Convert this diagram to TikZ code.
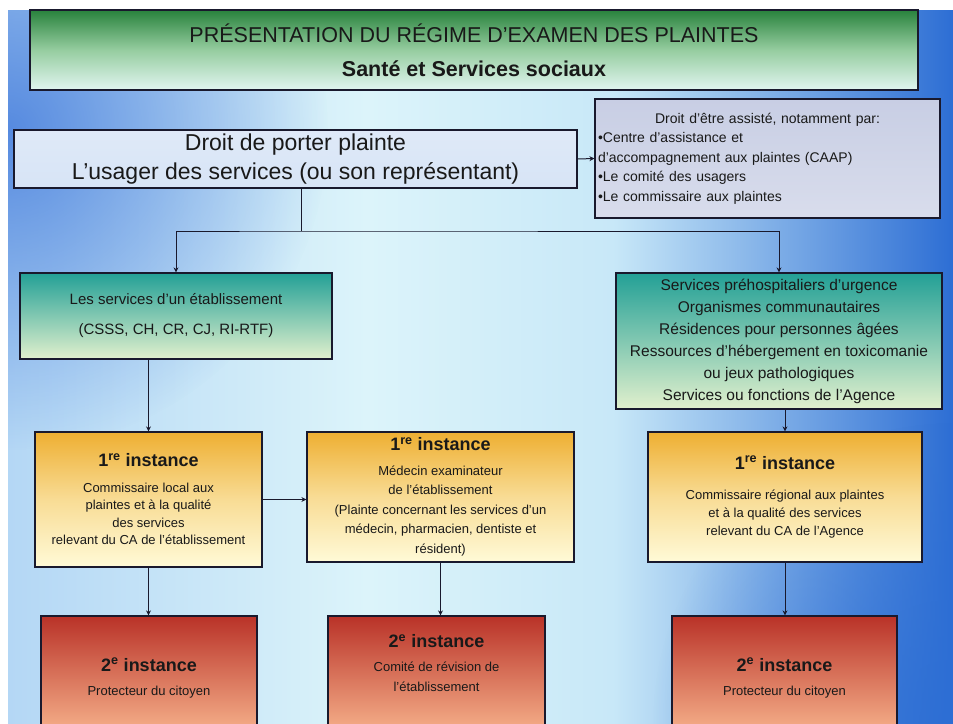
\documentclass[tikz,border=0pt]{standalone}
\usepackage{fontspec}
\setmainfont{Liberation Sans}
\usetikzlibrary{arrows.meta,fadings}

\definecolor{bordure}{RGB}{25,25,45}
\definecolor{texte}{RGB}{25,25,25}
\definecolor{fondg}{RGB}{180,215,245}
\definecolor{fondm}{RGB}{220,244,250}
\definecolor{fondm2}{RGB}{200,232,248}
\definecolor{fondd}{RGB}{45,110,212}
\definecolor{fondcoin}{RGB}{70,125,220}
\definecolor{vertfonce}{RGB}{40,130,60}
\definecolor{vertmoyen}{RGB}{150,205,160}
\definecolor{vertpale}{RGB}{225,245,240}
\definecolor{bleupale}{RGB}{215,228,246}
\definecolor{grispale}{RGB}{200,206,228}
\definecolor{turquoise}{RGB}{35,160,150}
\definecolor{turqpale}{RGB}{225,240,205}
\definecolor{jaunefonce}{RGB}{238,175,50}
\definecolor{jaunepale}{RGB}{255,250,215}
\definecolor{rougefonce}{RGB}{185,50,40}
\definecolor{rougepale}{RGB}{250,185,145}

\pgfdeclarehorizontalshading{fond}{100bp}{color(0bp)=(fondg); color(25bp)=(fondg);
  color(44bp)=(fondm); color(57bp)=(fondm2); color(75bp)=(fondd); color(100bp)=(fondd)}
\tikzfading[name=halo, inner color=transparent!15, outer color=transparent!100]

\newcommand{\taille}[2]{\fontsize{#1}{#2}\selectfont}

\tikzset{
  boite/.style={draw=bordure, line width=1.2pt, inner sep=0pt, align=center, text=texte},
  titre/.style={boite, top color=vertfonce, bottom color=vertpale, middle color=vertmoyen, font=\taille{21.5}{34}},
  plainte/.style={boite, top color=bleupale!80!white, bottom color=bleupale, font=\taille{23}{29}},
  assist/.style={boite, top color=grispale, bottom color=grispale!70!white, align=left, font=\taille{14}{19.5}},
  etab/.style={boite, top color=turquoise, bottom color=turqpale},
  premiere/.style={boite, top color=jaunefonce, bottom color=jaunepale, middle color=jaunepale!60!jaunefonce},
  deuxieme/.style={boite, top color=rougefonce, bottom color=rougepale},
  trait/.style={draw=bordure, line width=1pt},
  fleche/.style={trait, -{Stealth[length=5pt,width=5pt]}}
}

\begin{document}
\begin{tikzpicture}[x=1pt, y=-1pt]
	% fond
	\useasboundingbox (0,0) rectangle (953,723);
	\clip (0,0) rectangle (953,723);
	\fill[white] (0,0) rectangle (953,723);
	\begin{scope}
		\clip (8,10) rectangle (953,723);
		\shade[shading=fond] (8,10) rectangle (953,723);
		\fill[fondcoin, path fading=halo] (8,130) circle[radius=320pt];
		\fill[fondd, path fading=halo] (953,723) circle[radius=300pt];
	\end{scope}

	% titre
	\node[titre, minimum width=888pt, minimum height=80pt] (titre) at (474,50)
		{PRÉSENTATION DU RÉGIME D'EXAMEN DES PLAINTES\\ \textbf{Santé et Services sociaux}};

	% usager
	\node[plainte, minimum width=563pt, minimum height=58pt] (plainte) at (295.5,159)
		{Droit de porter plainte\\ L'usager des services (ou son représentant)};
	\node[assist, text width=339pt, inner xsep=3pt, minimum height=119pt] (assist) at (767.5,158.5)
		{\makebox[339pt][c]{Droit d'être assisté, notamment par:}\\
		\textbullet Centre d'assistance et\\
		d'accompagnement aux plaintes (CAAP)\\
		\textbullet Le comité des usagers\\
		\textbullet Le commissaire aux plaintes};

	% services
	\node[etab, minimum width=312pt, minimum height=86pt, font=\taille{15}{18}] (etab) at (176,316)
		{Les services d'un établissement\\[12pt] (CSSS, CH, CR, CJ, RI-RTF)};
	\node[etab, minimum width=326pt, minimum height=136pt, font=\taille{15.5}{22}] (autres) at (779,341)
		{Services préhospitaliers d'urgence\\ Organismes communautaires\\ Résidences pour personnes âgées\\
		Ressources d'hébergement en toxicomanie\\ ou jeux pathologiques\\ Services ou fonctions de l'Agence};

	% 1re instance
	\node[premiere, minimum width=227pt, minimum height=135pt, font=\taille{13}{17.5}] (inst1a) at (148.5,499.5)
		{\textbf{\taille{18}{22}1\textsuperscript{re} instance}\\[8pt] Commissaire local aux\\ plaintes et à la qualité\\
		des services\\ relevant du CA de l'établissement};
	\node[premiere, minimum width=267pt, minimum height=130pt, font=\taille{13}{19.5}] (inst1b) at (440.5,497)
		{\textbf{\taille{18}{22}1\textsuperscript{re} instance}\\[5pt] Médecin examinateur\\ de l'établissement\\
		(Plainte concernant les services d'un\\ médecin, pharmacien, dentiste et\\ résident)};
	\node[premiere, minimum width=274pt, minimum height=130pt, font=\taille{13}{18}] (inst1c) at (785,497)
		{\textbf{\taille{18}{22}1\textsuperscript{re} instance}\\[12pt] Commissaire régional aux plaintes\\
		et à la qualité des services\\ relevant du CA de l'Agence};

	% 2e instance
	\node[deuxieme, minimum width=216pt, minimum height=124pt, font=\taille{13}{18}] (inst2a) at (149,678)
		{\textbf{\taille{18}{22}2\textsuperscript{e} instance}\\[6pt] Protecteur du citoyen};
	\node[deuxieme, minimum width=217pt, minimum height=124pt, font=\taille{13}{20}, text depth=30pt] (inst2b) at (436.5,678)
		{\textbf{\taille{18}{22}2\textsuperscript{e} instance}\\[4pt] Comité de révision de\\ l'établissement};
	\node[deuxieme, minimum width=225pt, minimum height=124pt, font=\taille{13}{18}] (inst2c) at (784.5,678)
		{\textbf{\taille{18}{22}2\textsuperscript{e} instance}\\[6pt] Protecteur du citoyen};

	% liens
	\coordinate (embr) at (301,231);
	\draw[fleche] (plainte.east) -- (assist.west);
	\draw[trait] (plainte.south -| embr) -- (embr);
	\draw[fleche, {Stealth[length=5pt,width=5pt]}-{Stealth[length=5pt,width=5pt]}] (etab.north) |- (embr) -| (autres.north);
	\draw[fleche] (etab.south -| inst1a.north) -- (inst1a.north);
	\draw[fleche] (inst1a.east) -- (inst1a.east -| inst1b.west);
	\draw[fleche] (inst1a.south) -- (inst1a.south |- inst2a.north);
	\draw[fleche] (inst1b.south) -- (inst1b.south |- inst2b.north);
	\draw[fleche] (inst1c.north |- autres.south) -- (inst1c.north);
	\draw[fleche] (inst1c.south) -- (inst1c.south |- inst2c.north);
\end{tikzpicture}
\end{document}
